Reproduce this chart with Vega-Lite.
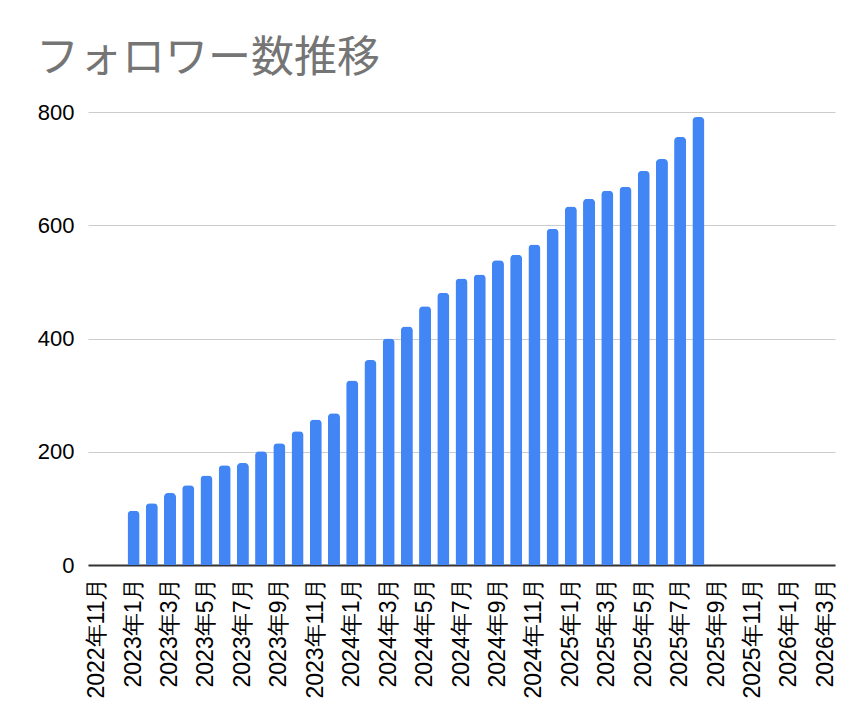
{
  "$schema": "https://vega.github.io/schema/vega-lite/v6.json",
  "width": 747,
  "height": 453,
  "autosize": {"type": "none"},
  "padding": {"left": 88, "top": 112, "right": 31, "bottom": 159},
  "background": "white",
  "title": {
    "text": "フォロワー数推移",
    "anchor": "start",
    "frame": "group",
    "font": "Noto Sans CJK JP",
    "fontSize": 43,
    "fontWeight": "normal",
    "color": "#757575",
    "dx": -52,
    "offset": 20
  },
  "data": {
    "values": [
      {"month": "2023年1月", "followers": 96},
      {"month": "2023年2月", "followers": 109},
      {"month": "2023年3月", "followers": 127},
      {"month": "2023年4月", "followers": 141},
      {"month": "2023年5月", "followers": 158},
      {"month": "2023年6月", "followers": 176},
      {"month": "2023年7月", "followers": 180},
      {"month": "2023年8月", "followers": 201},
      {"month": "2023年9月", "followers": 215},
      {"month": "2023年10月", "followers": 236},
      {"month": "2023年11月", "followers": 257},
      {"month": "2023年12月", "followers": 268},
      {"month": "2024年1月", "followers": 326},
      {"month": "2024年2月", "followers": 362},
      {"month": "2024年3月", "followers": 400},
      {"month": "2024年4月", "followers": 421},
      {"month": "2024年5月", "followers": 457},
      {"month": "2024年6月", "followers": 481},
      {"month": "2024年7月", "followers": 506},
      {"month": "2024年8月", "followers": 513},
      {"month": "2024年9月", "followers": 538},
      {"month": "2024年10月", "followers": 548},
      {"month": "2024年11月", "followers": 566},
      {"month": "2024年12月", "followers": 594},
      {"month": "2025年1月", "followers": 633},
      {"month": "2025年2月", "followers": 647},
      {"month": "2025年3月", "followers": 661},
      {"month": "2025年4月", "followers": 668},
      {"month": "2025年5月", "followers": 696},
      {"month": "2025年6月", "followers": 717},
      {"month": "2025年7月", "followers": 756},
      {"month": "2025年8月", "followers": 791}
    ]
  },
  "mark": {"type": "bar", "color": "#4285F4", "cornerRadiusEnd": 4},
  "encoding": {
    "x": {
      "field": "month",
      "type": "ordinal",
      "sort": null,
      "scale": {
        "domain": ["2022年11月", "2022年12月",
          "2023年1月", "2023年2月", "2023年3月", "2023年4月", "2023年5月", "2023年6月", "2023年7月", "2023年8月", "2023年9月", "2023年10月", "2023年11月", "2023年12月",
          "2024年1月", "2024年2月", "2024年3月", "2024年4月", "2024年5月", "2024年6月", "2024年7月", "2024年8月", "2024年9月", "2024年10月", "2024年11月", "2024年12月",
          "2025年1月", "2025年2月", "2025年3月", "2025年4月", "2025年5月", "2025年6月", "2025年7月", "2025年8月", "2025年9月", "2025年10月", "2025年11月", "2025年12月",
          "2026年1月", "2026年2月", "2026年3月"],
        "paddingInner": 0.34,
        "paddingOuter": 0.17
      },
      "axis": {
        "title": null,
        "values": ["2022年11月", "2023年1月", "2023年3月", "2023年5月", "2023年7月", "2023年9月", "2023年11月",
          "2024年1月", "2024年3月", "2024年5月", "2024年7月", "2024年9月", "2024年11月",
          "2025年1月", "2025年3月", "2025年5月", "2025年7月", "2025年9月", "2025年11月",
          "2026年1月", "2026年3月"],
        "labelAngle": -90,
        "labelAlign": "right",
        "labelBaseline": "middle",
        "labelFont": "Liberation Sans",
        "labelFontSize": 23,
        "labelColor": "#000000",
        "labelPadding": 12,
        "labelOverlap": false,
        "labelBound": false,
        "ticks": false,
        "domainColor": "#333333",
        "domainWidth": 2,
        "grid": false
      }
    },
    "y": {
      "field": "followers",
      "type": "quantitative",
      "scale": {"domain": [0, 800], "nice": false},
      "axis": {
        "title": null,
        "values": [0, 200, 400, 600, 800],
        "labelFont": "Liberation Sans",
        "labelFontSize": 22,
        "labelColor": "#000000",
        "labelPadding": 14,
        "ticks": false,
        "domain": false,
        "gridColor": "#cccccc",
        "gridWidth": 1
      }
    }
  },
  "config": {
    "view": {"stroke": null}
  }
}
